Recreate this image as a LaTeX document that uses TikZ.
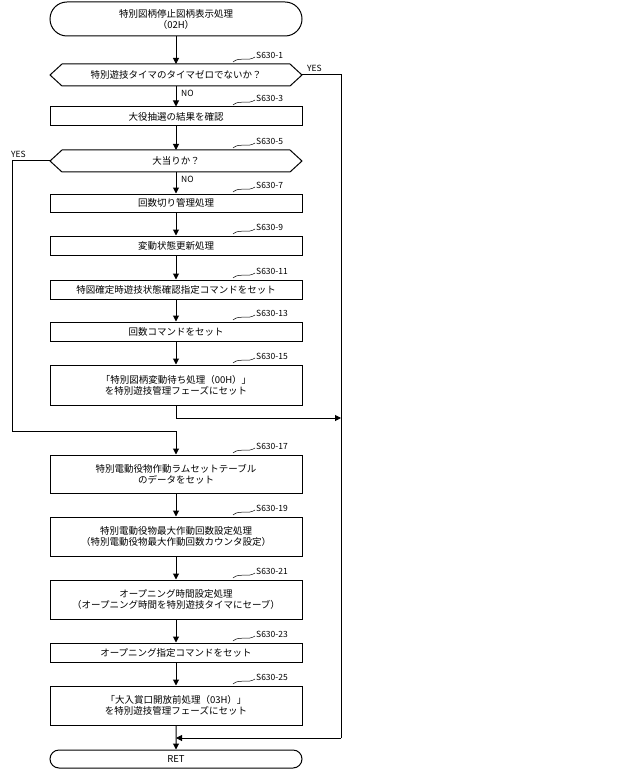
\documentclass[tikz,border=0pt]{standalone}
\usepackage{fontspec}
\setmainfont{Noto Sans CJK JP}
\usetikzlibrary{shapes.misc,arrows.meta}
\begin{document}
\begin{tikzpicture}[x=1pt,y=-1pt,
  font=\fontsize{9.5}{11}\selectfont,
  line/.style={line width=1pt},
  arr/.style={line width=1pt,-{Triangle[length=6pt,width=6pt]}},
  lbl/.style={font=\fontsize{8.5}{10}\selectfont,anchor=south west,inner sep=1pt}]
\useasboundingbox (0,0) rectangle (640,770);
\newcommand\pbox[4]{\node[draw,line width=1pt,minimum width=252pt,minimum height=#3pt,inner sep=0pt,align=center] (#1) at (176,#2) {#4};}
\newcommand\steplbl[2]{\draw[line width=0.5pt] (#1.north east)++(-70,-3) .. controls +(6,-6) and +(-6,6) .. ++(20,-4) coordinate (#2w); \node[lbl] at (#2w) {#2};}
\node[draw,line width=1pt,rounded rectangle,minimum width=252pt,minimum height=34pt,inner sep=0pt,align=center] (st) at (176,19) {特別図柄停止図柄表示処理\\（02H）};
\draw[line width=1pt] (50,75) -- (62,64) -- (290,64) -- (302,75) -- (290,86) -- (62,86) -- cycle;
\node (d1) at (176,75) {特別遊技タイマのタイマゼロでないか？};
\coordinate (d1n) at (176,64); \coordinate (d1s) at (176,86); \coordinate (d1e) at (302,75);
\draw[line width=1pt] (50,161) -- (62,150) -- (290,150) -- (302,161) -- (290,172) -- (62,172) -- cycle;
\node (d2) at (176,161) {大当りか？};
\coordinate (d2n) at (176,150); \coordinate (d2s) at (176,172); \coordinate (d2w) at (50,161);
\pbox{b3}{116.5}{19}{大役抽選の結果を確認}
\pbox{b7}{203}{18}{回数切り管理処理}
\pbox{b9}{245.5}{19}{変動状態更新処理}
\pbox{b11}{289.5}{19}{特図確定時遊技状態確認指定コマンドをセット}
\pbox{b13}{331.5}{19}{回数コマンドをセット}
\pbox{b15}{385}{40}{「特別図柄変動待ち処理（00H）」\\を特別遊技管理フェーズにセット}
\pbox{b17}{474}{38}{特別電動役物作動ラムセットテーブル\\のデータをセット}
\pbox{b19}{536.5}{39}{特別電動役物最大作動回数設定処理\\（特別電動役物最大作動回数カウンタ設定）}
\pbox{b21}{599.5}{39}{オープニング時間設定処理\\（オープニング時間を特別遊技タイマにセーブ）}
\pbox{b23}{652.5}{19}{オープニング指定コマンドをセット}
\pbox{b25}{705.5}{39}{「大入賞口開放前処理（03H）」\\を特別遊技管理フェーズにセット}
\node[draw,line width=1pt,rounded rectangle,minimum width=252pt,minimum height=18pt,inner sep=0pt] (ret) at (176,759) {RET};
% labels
\draw[line width=0.5pt] (233,62) .. controls (240,56) and (248,62) .. (255,57); \node[lbl] at (255,60) {S630-1};
\draw[line width=0.5pt] (233,105) .. controls (240,99) and (248,105) .. (255,100); \node[lbl] at (255,103) {S630-3};
\draw[line width=0.5pt] (233,148) .. controls (240,142) and (248,148) .. (255,143); \node[lbl] at (255,146) {S630-5};
\draw[line width=0.5pt] (233,192) .. controls (240,186) and (248,192) .. (255,187); \node[lbl] at (255,190) {S630-7};
\draw[line width=0.5pt] (233,234) .. controls (240,228) and (248,234) .. (255,229); \node[lbl] at (255,232) {S630-9};
\draw[line width=0.5pt] (233,278) .. controls (240,272) and (248,278) .. (255,273); \node[lbl] at (255,276) {S630-11};
\draw[line width=0.5pt] (233,320) .. controls (240,314) and (248,320) .. (255,315); \node[lbl] at (255,318) {S630-13};
\draw[line width=0.5pt] (233,363) .. controls (240,357) and (248,363) .. (255,358); \node[lbl] at (255,361) {S630-15};
\draw[line width=0.5pt] (233,453) .. controls (240,447) and (248,453) .. (255,448); \node[lbl] at (255,451) {S630-17};
\draw[line width=0.5pt] (233,515) .. controls (240,509) and (248,515) .. (255,510); \node[lbl] at (255,513) {S630-19};
\draw[line width=0.5pt] (233,578) .. controls (240,572) and (248,578) .. (255,573); \node[lbl] at (255,576) {S630-21};
\draw[line width=0.5pt] (233,641) .. controls (240,635) and (248,641) .. (255,636); \node[lbl] at (255,639) {S630-23};
\draw[line width=0.5pt] (233,684) .. controls (240,678) and (248,684) .. (255,679); \node[lbl] at (255,682) {S630-25};
% arrows
\draw[arr] (st) -- (d1n);
\draw[arr] (d1s) -- (b3); \node[lbl] at (180,98) {NO};
\draw[arr] (b3) -- (d2n);
\draw[arr] (d2s) -- (b7); \node[lbl] at (180,184) {NO};
\draw[arr] (b7) -- (b9);
\draw[arr] (b9) -- (b11);
\draw[arr] (b11) -- (b13);
\draw[arr] (b13) -- (b15);
\draw[arr] (b17) -- (b19);
\draw[arr] (b19) -- (b21);
\draw[arr] (b21) -- (b23);
\draw[arr] (b23) -- (b25);
\draw[arr] (b25) -- (ret);
\coordinate (rtop) at (341,75); \coordinate (rmid) at (341,418); \coordinate (rbot) at (341,738);
\draw[line] (d1e) -- (rtop) -- (rbot);
\node[lbl] at (306,73) {YES};
\draw[arr] (b15.south) |- (rmid);
\draw[arr] (rbot) -- (176,738);
\coordinate (lt) at (12,161); \coordinate (lb) at (12,431);
\draw[arr] (d2w) -- (lt) -- (lb) -| (b17.north);
\node[lbl] at (10,159) {YES};
\end{tikzpicture}
\end{document}
